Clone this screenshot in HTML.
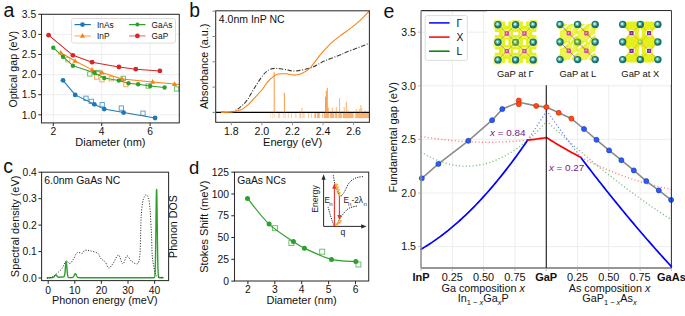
<!DOCTYPE html>
<html><head><meta charset="utf-8"><style>
html,body{margin:0;padding:0;background:#fff;width:685px;height:316px;overflow:hidden}
svg{display:block}
</style></head><body>
<svg width="685" height="316" viewBox="0 0 685 316" style="font-family:'Liberation Sans', sans-serif">
<rect width="685" height="316" fill="#fff"/>
<text x="3.50" y="17.30" font-size="19.5" text-anchor="start" fill="#111" font-weight="normal" >a</text>
<text x="189.20" y="16.60" font-size="19.3" text-anchor="start" fill="#111" font-weight="normal" >b</text>
<text x="3.30" y="173.40" font-size="19.5" text-anchor="start" fill="#111" font-weight="normal" >c</text>
<text x="189.00" y="173.70" font-size="18.5" text-anchor="start" fill="#111" font-weight="normal" >d</text>
<text x="383.50" y="18.00" font-size="19.5" text-anchor="start" fill="#111" font-weight="normal" >e</text>
<line x1="53.30" y1="14.30" x2="53.30" y2="122.90" stroke="#ebebeb" stroke-width="0.9" />
<line x1="101.70" y1="14.30" x2="101.70" y2="122.90" stroke="#ebebeb" stroke-width="0.9" />
<line x1="150.10" y1="14.30" x2="150.10" y2="122.90" stroke="#ebebeb" stroke-width="0.9" />
<line x1="41.50" y1="114.80" x2="179.30" y2="114.80" stroke="#ebebeb" stroke-width="0.9" />
<line x1="41.50" y1="94.70" x2="179.30" y2="94.70" stroke="#ebebeb" stroke-width="0.9" />
<line x1="41.50" y1="74.60" x2="179.30" y2="74.60" stroke="#ebebeb" stroke-width="0.9" />
<line x1="41.50" y1="54.50" x2="179.30" y2="54.50" stroke="#ebebeb" stroke-width="0.9" />
<line x1="41.50" y1="34.40" x2="179.30" y2="34.40" stroke="#ebebeb" stroke-width="0.9" />
<line x1="41.50" y1="14.30" x2="179.30" y2="14.30" stroke="#ebebeb" stroke-width="0.9" />
<rect x="71.6" y="18.5" width="103.9" height="24.6" rx="2" fill="#fff" fill-opacity="0.92" stroke="#d9d9d9" stroke-width="0.9"/>
<polyline points="63.00,80.30 75.20,94.90 94.30,104.30 104.20,109.10 123.60,112.60 155.10,118.00" fill="none" stroke="#1f77b4" stroke-width="1.05" stroke-linejoin="round" stroke-linecap="round" />
<polyline points="60.80,52.70 75.10,61.00 92.10,69.90 101.90,72.60 122.10,79.00 152.70,81.90 174.50,84.10 179.30,84.60" fill="none" stroke="#ff7f0e" stroke-width="1.05" stroke-linejoin="round" stroke-linecap="round" />
<polyline points="53.30,47.70 63.00,56.80 72.90,65.70 94.40,72.80 104.20,78.00 118.80,80.60 128.50,83.20 138.10,84.20 150.20,86.00 164.60,87.50" fill="none" stroke="#2ca02c" stroke-width="1.05" stroke-linejoin="round" stroke-linecap="round" />
<polyline points="48.60,35.20 72.90,55.30 92.10,62.20 118.90,67.00 135.80,69.20 159.90,70.90" fill="none" stroke="#d62728" stroke-width="1.05" stroke-linejoin="round" stroke-linecap="round" />
<rect x="83.85" y="96.15" width="4.3" height="4.3" fill="none" stroke="#1f77b4" stroke-width="0.9" stroke-opacity="0.75"/>
<rect x="89.15" y="99.25" width="4.3" height="4.3" fill="none" stroke="#1f77b4" stroke-width="0.9" stroke-opacity="0.75"/>
<rect x="100.05" y="102.55" width="4.3" height="4.3" fill="none" stroke="#1f77b4" stroke-width="0.9" stroke-opacity="0.75"/>
<rect x="119.25" y="105.95" width="4.3" height="4.3" fill="none" stroke="#1f77b4" stroke-width="0.9" stroke-opacity="0.75"/>
<rect x="140.85" y="111.05" width="4.3" height="4.3" fill="none" stroke="#1f77b4" stroke-width="0.9" stroke-opacity="0.75"/>
<rect x="65.55" y="57.55" width="4.3" height="4.3" fill="none" stroke="#ff7f0e" stroke-width="0.9" stroke-opacity="0.75"/>
<rect x="94.45" y="74.95" width="4.3" height="4.3" fill="none" stroke="#ff7f0e" stroke-width="0.9" stroke-opacity="0.75"/>
<rect x="99.85" y="77.55" width="4.3" height="4.3" fill="none" stroke="#ff7f0e" stroke-width="0.9" stroke-opacity="0.75"/>
<rect x="109.15" y="76.65" width="4.3" height="4.3" fill="none" stroke="#ff7f0e" stroke-width="0.9" stroke-opacity="0.75"/>
<rect x="123.75" y="82.45" width="4.3" height="4.3" fill="none" stroke="#ff7f0e" stroke-width="0.9" stroke-opacity="0.75"/>
<rect x="87.65" y="71.85" width="4.3" height="4.3" fill="none" stroke="#2ca02c" stroke-width="0.9" stroke-opacity="0.75"/>
<rect x="95.85" y="70.35" width="4.3" height="4.3" fill="none" stroke="#2ca02c" stroke-width="0.9" stroke-opacity="0.75"/>
<rect x="121.05" y="76.25" width="4.3" height="4.3" fill="none" stroke="#2ca02c" stroke-width="0.9" stroke-opacity="0.75"/>
<rect x="146.05" y="83.85" width="4.3" height="4.3" fill="none" stroke="#2ca02c" stroke-width="0.9" stroke-opacity="0.75"/>
<rect x="174.35" y="86.85" width="4.3" height="4.3" fill="none" stroke="#2ca02c" stroke-width="0.9" stroke-opacity="0.75"/>
<circle cx="63.00" cy="80.30" r="2.4" fill="#1f77b4" stroke="none" stroke-width="0" />
<circle cx="75.20" cy="94.90" r="2.4" fill="#1f77b4" stroke="none" stroke-width="0" />
<circle cx="94.30" cy="104.30" r="2.4" fill="#1f77b4" stroke="none" stroke-width="0" />
<circle cx="104.20" cy="109.10" r="2.4" fill="#1f77b4" stroke="none" stroke-width="0" />
<circle cx="123.60" cy="112.60" r="2.4" fill="#1f77b4" stroke="none" stroke-width="0" />
<circle cx="155.10" cy="118.00" r="2.4" fill="#1f77b4" stroke="none" stroke-width="0" />
<polygon points="60.80,49.89 58.20,54.57 63.40,54.57" fill="#ff7f0e"/>
<polygon points="75.10,58.19 72.50,62.87 77.70,62.87" fill="#ff7f0e"/>
<polygon points="92.10,67.09 89.50,71.77 94.70,71.77" fill="#ff7f0e"/>
<polygon points="101.90,69.79 99.30,74.47 104.50,74.47" fill="#ff7f0e"/>
<polygon points="122.10,76.19 119.50,80.87 124.70,80.87" fill="#ff7f0e"/>
<polygon points="152.70,79.09 150.10,83.77 155.30,83.77" fill="#ff7f0e"/>
<polygon points="174.50,81.29 171.90,85.97 177.10,85.97" fill="#ff7f0e"/>
<circle cx="53.30" cy="47.70" r="2.2" fill="#2ca02c" stroke="none" stroke-width="0" />
<circle cx="63.00" cy="56.80" r="2.2" fill="#2ca02c" stroke="none" stroke-width="0" />
<circle cx="72.90" cy="65.70" r="2.2" fill="#2ca02c" stroke="none" stroke-width="0" />
<circle cx="94.40" cy="72.80" r="2.2" fill="#2ca02c" stroke="none" stroke-width="0" />
<circle cx="104.20" cy="78.00" r="2.2" fill="#2ca02c" stroke="none" stroke-width="0" />
<circle cx="118.80" cy="80.60" r="2.2" fill="#2ca02c" stroke="none" stroke-width="0" />
<circle cx="128.50" cy="83.20" r="2.2" fill="#2ca02c" stroke="none" stroke-width="0" />
<circle cx="138.10" cy="84.20" r="2.2" fill="#2ca02c" stroke="none" stroke-width="0" />
<circle cx="150.20" cy="86.00" r="2.2" fill="#2ca02c" stroke="none" stroke-width="0" />
<circle cx="164.60" cy="87.50" r="2.2" fill="#2ca02c" stroke="none" stroke-width="0" />
<circle cx="48.60" cy="35.20" r="2.4" fill="#d62728" stroke="none" stroke-width="0" />
<circle cx="72.90" cy="55.30" r="2.4" fill="#d62728" stroke="none" stroke-width="0" />
<circle cx="92.10" cy="62.20" r="2.4" fill="#d62728" stroke="none" stroke-width="0" />
<circle cx="118.90" cy="67.00" r="2.4" fill="#d62728" stroke="none" stroke-width="0" />
<circle cx="135.80" cy="69.20" r="2.4" fill="#d62728" stroke="none" stroke-width="0" />
<circle cx="159.90" cy="70.90" r="2.4" fill="#d62728" stroke="none" stroke-width="0" />
<line x1="74.50" y1="24.60" x2="90.90" y2="24.60" stroke="#1f77b4" stroke-width="1.2" />
<circle cx="82.50" cy="24.60" r="2.4" fill="#1f77b4" stroke="none" stroke-width="0" />
<line x1="74.50" y1="35.90" x2="90.90" y2="35.90" stroke="#ff7f0e" stroke-width="1.2" stroke-opacity="0.6"/>
<polygon points="82.50,33.09 79.90,37.77 85.10,37.77" fill="#ff7f0e"/>
<line x1="129.10" y1="24.60" x2="145.50" y2="24.60" stroke="#2ca02c" stroke-width="1.2" />
<circle cx="137.40" cy="24.60" r="2.0" fill="#2ca02c" stroke="none" stroke-width="0" />
<line x1="129.10" y1="35.90" x2="145.50" y2="35.90" stroke="#d62728" stroke-width="1.2" stroke-opacity="0.6"/>
<circle cx="137.40" cy="35.90" r="2.4" fill="#d62728" stroke="none" stroke-width="0" />
<text x="97.00" y="27.70" font-size="8.3" text-anchor="start" fill="#111" font-weight="normal" >InAs</text>
<text x="97.00" y="39.00" font-size="8.3" text-anchor="start" fill="#111" font-weight="normal" >InP</text>
<text x="151.60" y="27.70" font-size="8.3" text-anchor="start" fill="#111" font-weight="normal" >GaAs</text>
<text x="151.60" y="39.00" font-size="8.3" text-anchor="start" fill="#111" font-weight="normal" >GaP</text>
<rect x="41.5" y="14.3" width="137.8" height="108.60000000000001" fill="none" stroke="#2e2e2e" stroke-width="1.05"/>
<line x1="53.30" y1="122.90" x2="53.30" y2="126.10" stroke="#2e2e2e" stroke-width="1.05" />
<text x="53.30" y="135.00" font-size="10.3" text-anchor="middle" fill="#111" font-weight="normal" >2</text>
<line x1="101.70" y1="122.90" x2="101.70" y2="126.10" stroke="#2e2e2e" stroke-width="1.05" />
<text x="101.70" y="135.00" font-size="10.3" text-anchor="middle" fill="#111" font-weight="normal" >4</text>
<line x1="150.10" y1="122.90" x2="150.10" y2="126.10" stroke="#2e2e2e" stroke-width="1.05" />
<text x="150.10" y="135.00" font-size="10.3" text-anchor="middle" fill="#111" font-weight="normal" >6</text>
<line x1="38.30" y1="114.80" x2="41.50" y2="114.80" stroke="#2e2e2e" stroke-width="1.05" />
<text x="36.20" y="118.50" font-size="10.3" text-anchor="end" fill="#111" font-weight="normal" >1.0</text>
<line x1="38.30" y1="94.70" x2="41.50" y2="94.70" stroke="#2e2e2e" stroke-width="1.05" />
<text x="36.20" y="98.40" font-size="10.3" text-anchor="end" fill="#111" font-weight="normal" >1.5</text>
<line x1="38.30" y1="74.60" x2="41.50" y2="74.60" stroke="#2e2e2e" stroke-width="1.05" />
<text x="36.20" y="78.30" font-size="10.3" text-anchor="end" fill="#111" font-weight="normal" >2.0</text>
<line x1="38.30" y1="54.50" x2="41.50" y2="54.50" stroke="#2e2e2e" stroke-width="1.05" />
<text x="36.20" y="58.20" font-size="10.3" text-anchor="end" fill="#111" font-weight="normal" >2.5</text>
<line x1="38.30" y1="34.40" x2="41.50" y2="34.40" stroke="#2e2e2e" stroke-width="1.05" />
<text x="36.20" y="38.10" font-size="10.3" text-anchor="end" fill="#111" font-weight="normal" >3.0</text>
<line x1="38.30" y1="14.30" x2="41.50" y2="14.30" stroke="#2e2e2e" stroke-width="1.05" />
<text x="36.20" y="18.00" font-size="10.3" text-anchor="end" fill="#111" font-weight="normal" >3.5</text>
<text x="110.40" y="146.00" font-size="11" text-anchor="middle" fill="#111" font-weight="normal" >Diameter (nm)</text>
<text transform="translate(17.20,69.30) rotate(-90)" font-size="10.6" text-anchor="middle" fill="#111">Optical gap (eV)</text>
<line x1="270.60" y1="112.40" x2="270.60" y2="118.10" stroke="#ff7f0e" stroke-width="1.0" stroke-opacity="0.25"/>
<line x1="272.60" y1="112.40" x2="272.60" y2="118.10" stroke="#ff7f0e" stroke-width="1.0" stroke-opacity="0.25"/>
<line x1="274.20" y1="112.40" x2="274.20" y2="118.10" stroke="#ff7f0e" stroke-width="1.0" stroke-opacity="0.3"/>
<line x1="278.30" y1="112.40" x2="278.30" y2="118.10" stroke="#ff7f0e" stroke-width="1.0" stroke-opacity="0.4"/>
<line x1="279.60" y1="112.40" x2="279.60" y2="118.10" stroke="#ff7f0e" stroke-width="1.0" stroke-opacity="0.4"/>
<line x1="283.30" y1="112.40" x2="283.30" y2="118.10" stroke="#ff7f0e" stroke-width="1.0" stroke-opacity="0.25"/>
<line x1="284.60" y1="112.40" x2="284.60" y2="118.10" stroke="#ff7f0e" stroke-width="1.0" stroke-opacity="0.25"/>
<line x1="285.60" y1="112.40" x2="285.60" y2="118.10" stroke="#ff7f0e" stroke-width="1.0" stroke-opacity="0.2"/>
<line x1="288.30" y1="112.40" x2="288.30" y2="118.10" stroke="#ff7f0e" stroke-width="1.0" stroke-opacity="0.4"/>
<line x1="291.50" y1="112.40" x2="291.50" y2="118.10" stroke="#ff7f0e" stroke-width="1.0" stroke-opacity="0.35"/>
<line x1="295.90" y1="112.40" x2="295.90" y2="118.10" stroke="#ff7f0e" stroke-width="1.0" stroke-opacity="0.45"/>
<line x1="299.90" y1="112.40" x2="299.90" y2="118.10" stroke="#ff7f0e" stroke-width="1.0" stroke-opacity="0.5"/>
<line x1="300.90" y1="112.40" x2="300.90" y2="118.10" stroke="#ff7f0e" stroke-width="1.0" stroke-opacity="0.45"/>
<line x1="302.50" y1="112.40" x2="302.50" y2="118.10" stroke="#ff7f0e" stroke-width="1.0" stroke-opacity="0.25"/>
<line x1="303.50" y1="112.40" x2="303.50" y2="118.10" stroke="#ff7f0e" stroke-width="1.0" stroke-opacity="0.25"/>
<line x1="304.40" y1="112.40" x2="304.40" y2="118.10" stroke="#ff7f0e" stroke-width="1.0" stroke-opacity="0.25"/>
<line x1="308.40" y1="112.40" x2="308.40" y2="118.10" stroke="#ff7f0e" stroke-width="1.0" stroke-opacity="0.5"/>
<line x1="311.60" y1="112.40" x2="311.60" y2="118.10" stroke="#ff7f0e" stroke-width="1.0" stroke-opacity="0.45"/>
<line x1="314.80" y1="112.40" x2="314.80" y2="118.10" stroke="#ff7f0e" stroke-width="1.0" stroke-opacity="0.55"/>
<rect x="315" y="112.4" width="1.20" height="5.7" fill="#ff7f0e" fill-opacity="0.6"/>
<rect x="317" y="112.4" width="2.80" height="5.7" fill="#ff7f0e" fill-opacity="0.6"/>
<rect x="322.2" y="112.4" width="0.80" height="5.7" fill="#ff7f0e" fill-opacity="0.6"/>
<rect x="323.8" y="112.4" width="5.20" height="5.7" fill="#ff7f0e" fill-opacity="0.6"/>
<rect x="329.9" y="112.4" width="4.40" height="5.7" fill="#ff7f0e" fill-opacity="0.6"/>
<rect x="335.1" y="112.4" width="2.40" height="5.7" fill="#ff7f0e" fill-opacity="0.6"/>
<rect x="338.3" y="112.4" width="3.60" height="5.7" fill="#ff7f0e" fill-opacity="0.6"/>
<rect x="342.7" y="112.4" width="10.90" height="5.7" fill="#ff7f0e" fill-opacity="0.6"/>
<rect x="355.2" y="112.4" width="14.20" height="5.7" fill="#ff7f0e" fill-opacity="0.6"/>
<line x1="215.70" y1="112.40" x2="369.40" y2="112.40" stroke="#000" stroke-width="1.2" />
<line x1="274.20" y1="112.40" x2="274.20" y2="71.90" stroke="#ff7f0e" stroke-width="1.0" stroke-opacity="0.8"/>
<line x1="284.40" y1="112.40" x2="284.40" y2="92.80" stroke="#ff7f0e" stroke-width="1.0" stroke-opacity="0.8"/>
<line x1="299.50" y1="112.40" x2="299.50" y2="111.00" stroke="#ff7f0e" stroke-width="1.0" stroke-opacity="0.5599999999999999"/>
<line x1="301.90" y1="112.40" x2="301.90" y2="108.00" stroke="#ff7f0e" stroke-width="1.0" stroke-opacity="0.5599999999999999"/>
<line x1="325.60" y1="112.40" x2="325.60" y2="96.80" stroke="#ff7f0e" stroke-width="1.0" stroke-opacity="0.8"/>
<line x1="326.30" y1="112.40" x2="326.30" y2="90.70" stroke="#ff7f0e" stroke-width="1.0" stroke-opacity="0.8"/>
<line x1="327.30" y1="112.40" x2="327.30" y2="87.80" stroke="#ff7f0e" stroke-width="1.0" stroke-opacity="0.8"/>
<line x1="328.30" y1="112.40" x2="328.30" y2="107.80" stroke="#ff7f0e" stroke-width="1.0" stroke-opacity="0.6400000000000001"/>
<line x1="332.30" y1="112.40" x2="332.30" y2="107.80" stroke="#ff7f0e" stroke-width="1.0" stroke-opacity="0.5599999999999999"/>
<line x1="336.30" y1="112.40" x2="336.30" y2="106.80" stroke="#ff7f0e" stroke-width="1.0" stroke-opacity="0.5599999999999999"/>
<line x1="339.60" y1="112.40" x2="339.60" y2="98.20" stroke="#ff7f0e" stroke-width="1.0" stroke-opacity="0.6400000000000001"/>
<line x1="344.20" y1="112.40" x2="344.20" y2="107.00" stroke="#ff7f0e" stroke-width="1.0" stroke-opacity="0.5599999999999999"/>
<line x1="346.30" y1="112.40" x2="346.30" y2="101.80" stroke="#ff7f0e" stroke-width="1.0" stroke-opacity="0.6400000000000001"/>
<line x1="348.00" y1="112.40" x2="348.00" y2="110.00" stroke="#ff7f0e" stroke-width="1.0" stroke-opacity="0.48"/>
<line x1="356.40" y1="112.40" x2="356.40" y2="109.00" stroke="#ff7f0e" stroke-width="1.0" stroke-opacity="0.48"/>
<line x1="359.60" y1="112.40" x2="359.60" y2="109.00" stroke="#ff7f0e" stroke-width="1.0" stroke-opacity="0.48"/>
<line x1="360.80" y1="112.40" x2="360.80" y2="105.00" stroke="#ff7f0e" stroke-width="1.0" stroke-opacity="0.5599999999999999"/>
<line x1="361.80" y1="112.40" x2="361.80" y2="108.00" stroke="#ff7f0e" stroke-width="1.0" stroke-opacity="0.48"/>
<line x1="365.20" y1="112.40" x2="365.20" y2="110.00" stroke="#ff7f0e" stroke-width="1.0" stroke-opacity="0.48"/>
<path d="M221.00,112.40 C222.77,112.33 228.53,112.75 231.60,112.00 C234.67,111.25 236.82,109.87 239.40,107.90 C241.98,105.93 244.67,103.40 247.10,100.20 C249.53,97.00 251.35,92.87 254.00,88.70 C256.65,84.53 260.40,78.40 263.00,75.20 C265.60,72.00 267.38,70.63 269.60,69.50 C271.82,68.37 273.73,68.40 276.30,68.40 C278.87,68.40 281.80,69.07 285.00,69.50 C288.20,69.93 291.17,71.30 295.50,71.00 C299.83,70.70 306.20,69.35 311.00,67.70 C315.80,66.05 319.47,63.22 324.30,61.10 C329.13,58.98 336.30,56.50 340.00,55.00 C343.70,53.50 341.60,54.05 346.50,52.10 C351.40,50.15 365.58,44.77 369.40,43.30" fill="none" stroke="#3a3a3a" stroke-width="1.1" stroke-dasharray="4.5,1.6,1.0,1.6"/>
<path d="M221.00,112.40 C222.77,112.33 228.35,112.38 231.60,112.00 C234.85,111.62 237.73,111.33 240.50,110.10 C243.27,108.87 245.62,106.90 248.20,104.60 C250.78,102.30 253.60,98.90 256.00,96.30 C258.40,93.70 260.65,91.42 262.60,89.00 C264.55,86.58 265.82,83.95 267.70,81.80 C269.58,79.65 272.15,77.40 273.90,76.10 C275.65,74.80 276.18,74.38 278.20,74.00 C280.22,73.62 283.12,73.62 286.00,73.80 C288.88,73.98 292.62,75.28 295.50,75.10 C298.38,74.92 300.80,73.95 303.30,72.70 C305.80,71.45 307.75,70.50 310.50,67.60 C313.25,64.70 316.62,59.13 319.80,55.30 C322.98,51.47 326.33,47.75 329.60,44.60 C332.87,41.45 336.13,38.93 339.40,36.40 C342.67,33.87 345.93,31.90 349.20,29.40 C352.47,26.90 355.63,24.50 359.00,21.40 C362.37,18.30 367.67,12.57 369.40,10.80" fill="none" stroke="#ff7f0e" stroke-width="1.05" />
<rect x="215.7" y="10.8" width="153.7" height="111.5" fill="none" stroke="#2e2e2e" stroke-width="1.05"/>
<line x1="231.30" y1="122.30" x2="231.30" y2="125.30" stroke="#888" stroke-width="0.9" />
<text x="231.30" y="135.00" font-size="10.6" text-anchor="middle" fill="#111" font-weight="normal" >1.8</text>
<line x1="261.88" y1="122.30" x2="261.88" y2="125.30" stroke="#888" stroke-width="0.9" />
<text x="261.88" y="135.00" font-size="10.6" text-anchor="middle" fill="#111" font-weight="normal" >2.0</text>
<line x1="292.46" y1="122.30" x2="292.46" y2="125.30" stroke="#888" stroke-width="0.9" />
<text x="292.46" y="135.00" font-size="10.6" text-anchor="middle" fill="#111" font-weight="normal" >2.2</text>
<line x1="323.04" y1="122.30" x2="323.04" y2="125.30" stroke="#888" stroke-width="0.9" />
<text x="323.04" y="135.00" font-size="10.6" text-anchor="middle" fill="#111" font-weight="normal" >2.4</text>
<line x1="353.62" y1="122.30" x2="353.62" y2="125.30" stroke="#888" stroke-width="0.9" />
<text x="353.62" y="135.00" font-size="10.6" text-anchor="middle" fill="#111" font-weight="normal" >2.6</text>
<line x1="212.50" y1="112.40" x2="215.70" y2="112.40" stroke="#777" stroke-width="0.9" />
<line x1="212.50" y1="87.10" x2="215.70" y2="87.10" stroke="#777" stroke-width="0.9" />
<line x1="212.50" y1="61.80" x2="215.70" y2="61.80" stroke="#777" stroke-width="0.9" />
<line x1="212.50" y1="36.50" x2="215.70" y2="36.50" stroke="#777" stroke-width="0.9" />
<line x1="212.50" y1="11.20" x2="215.70" y2="11.20" stroke="#777" stroke-width="0.9" />
<text x="292.60" y="146.00" font-size="11.1" text-anchor="middle" fill="#111" font-weight="normal" >Energy (eV)</text>
<text transform="translate(207.60,66.40) rotate(-90)" font-size="10.75" text-anchor="middle" fill="#111">Absorbance (a.u.)</text>
<text x="218.80" y="22.70" font-size="10.5" text-anchor="start" fill="#111" font-weight="normal" >4.0nm InP NC</text>
<polyline points="47.14,277.68 47.27,277.68 47.40,277.68 47.54,277.68 47.67,277.68 47.80,277.68 47.93,277.68 48.07,277.68 48.20,277.68 48.33,277.68 48.47,277.68 48.60,277.68 48.73,277.68 48.87,277.68 49.00,277.68 49.13,277.68 49.26,277.68 49.40,277.68 49.53,277.68 49.66,277.68 49.80,277.68 49.93,277.68 50.06,277.68 50.20,277.68 50.33,277.68 50.46,277.68 50.59,277.68 50.73,277.68 50.86,277.68 50.99,277.68 51.13,277.68 51.26,277.68 51.39,277.68 51.53,277.68 51.66,277.68 51.79,277.67 51.92,277.67 52.06,277.66 52.19,277.65 52.32,277.64 52.46,277.63 52.59,277.61 52.72,277.58 52.86,277.55 52.99,277.51 53.12,277.46 53.25,277.40 53.39,277.32 53.52,277.24 53.65,277.14 53.79,277.02 53.92,276.89 54.05,276.75 54.19,276.59 54.32,276.43 54.45,276.26 54.58,276.08 54.72,275.90 54.85,275.73 54.98,275.56 55.12,275.41 55.25,275.28 55.38,275.18 55.52,275.10 55.65,275.05 55.78,275.03 55.91,275.04 56.05,275.09 56.18,275.16 56.31,275.26 56.45,275.39 56.58,275.53 56.71,275.69 56.84,275.85 56.98,276.02 57.11,276.19 57.24,276.35 57.38,276.50 57.51,276.65 57.64,276.77 57.78,276.89 57.91,276.98 58.04,277.06 58.17,277.13 58.31,277.18 58.44,277.22 58.57,277.24 58.71,277.26 58.84,277.27 58.97,277.27 59.11,277.26 59.24,277.25 59.37,277.24 59.50,277.23 59.64,277.21 59.77,277.19 59.90,277.18 60.04,277.16 60.17,277.15 60.30,277.13 60.44,277.12 60.57,277.11 60.70,277.09 60.83,277.08 60.97,277.07 61.10,277.07 61.23,277.06 61.37,277.05 61.50,277.04 61.63,277.03 61.77,277.02 61.90,277.01 62.03,277.00 62.16,276.99 62.30,276.98 62.43,276.97 62.56,276.95 62.70,276.94 62.83,276.93 62.96,276.92 63.10,276.91 63.23,276.89 63.36,276.88 63.49,276.86 63.63,276.83 63.76,276.78 63.89,276.72 64.03,276.61 64.16,276.45 64.29,276.20 64.43,275.85 64.56,275.35 64.69,274.68 64.82,273.81 64.96,272.72 65.09,271.43 65.22,269.96 65.36,268.36 65.49,266.73 65.62,265.17 65.76,263.79 65.89,262.72 66.02,262.04 66.15,261.83 66.29,262.10 66.42,262.84 66.55,263.97 66.69,265.40 66.82,267.02 66.95,268.71 67.09,270.35 67.22,271.87 67.35,273.21 67.48,274.33 67.62,275.24 67.75,275.95 67.88,276.47 68.02,276.86 68.15,277.12 68.28,277.30 68.42,277.42 68.55,277.50 68.68,277.55 68.81,277.58 68.95,277.61 69.08,277.62 69.21,277.63 69.35,277.64 69.48,277.65 69.61,277.65 69.75,277.66 69.88,277.66 70.01,277.66 70.14,277.67 70.28,277.67 70.41,277.67 70.54,277.67 70.68,277.67 70.81,277.68 70.94,277.68 71.08,277.68 71.21,277.67 71.34,277.67 71.47,277.67 71.61,277.67 71.74,277.66 71.87,277.65 72.01,277.63 72.14,277.61 72.27,277.59 72.41,277.55 72.54,277.51 72.67,277.45 72.80,277.38 72.94,277.28 73.07,277.17 73.20,277.04 73.34,276.88 73.47,276.69 73.60,276.48 73.74,276.25 73.87,276.00 74.00,275.73 74.14,275.45 74.27,275.16 74.40,274.88 74.53,274.61 74.67,274.36 74.80,274.14 74.93,273.96 75.07,273.83 75.20,273.74 75.33,273.72 75.47,273.74 75.60,273.83 75.73,273.96 75.86,274.14 76.00,274.36 76.13,274.61 76.26,274.88 76.40,275.16 76.53,275.45 76.66,275.73 76.80,276.00 76.93,276.25 77.06,276.48 77.19,276.69 77.33,276.88 77.46,277.04 77.59,277.17 77.73,277.28 77.86,277.38 77.99,277.45 78.13,277.51 78.26,277.55 78.39,277.59 78.52,277.62 78.66,277.64 78.79,277.65 78.92,277.66 79.06,277.67 79.19,277.67 79.32,277.68 79.46,277.68 79.59,277.68 79.72,277.68 79.85,277.68 79.99,277.68 80.12,277.68 80.25,277.68 80.39,277.68 80.52,277.68 80.65,277.68 80.79,277.68 80.92,277.68 81.05,277.68 81.18,277.68 81.32,277.68 81.45,277.68 81.58,277.68 81.72,277.68 81.85,277.68 81.98,277.68 82.12,277.68 82.25,277.68 82.38,277.68 82.51,277.68 82.65,277.68 82.78,277.68 82.91,277.68 83.05,277.68 83.18,277.68 83.31,277.68 83.45,277.68 83.58,277.68 83.71,277.68 83.84,277.68 83.98,277.68 84.11,277.68 84.24,277.68 84.38,277.68 84.51,277.68 84.64,277.68 84.78,277.68 84.91,277.68 85.04,277.68 85.17,277.68 85.31,277.68 85.44,277.68 85.57,277.68 85.71,277.68 85.84,277.68 85.97,277.68 86.11,277.68 86.24,277.68 86.37,277.68 86.50,277.68 86.64,277.68 86.77,277.68 86.90,277.68 87.04,277.68 87.17,277.68 87.30,277.68 87.44,277.68 87.57,277.68 87.70,277.68 87.83,277.68 87.97,277.68 88.10,277.68 88.23,277.68 88.37,277.68 88.50,277.68 88.63,277.68 88.77,277.68 88.90,277.68 89.03,277.68 89.16,277.68 89.30,277.68 89.43,277.68 89.56,277.68 89.70,277.68 89.83,277.68 89.96,277.68 90.10,277.68 90.23,277.68 90.36,277.68 90.49,277.68 90.63,277.68 90.76,277.68 90.89,277.68 91.03,277.68 91.16,277.68 91.29,277.68 91.43,277.68 91.56,277.68 91.69,277.68 91.82,277.68 91.96,277.68 92.09,277.68 92.22,277.68 92.36,277.68 92.49,277.68 92.62,277.68 92.76,277.68 92.89,277.68 93.02,277.68 93.15,277.68 93.29,277.68 93.42,277.68 93.55,277.68 93.69,277.68 93.82,277.68 93.95,277.68 94.09,277.68 94.22,277.68 94.35,277.68 94.48,277.68 94.62,277.68 94.75,277.68 94.88,277.68 95.02,277.68 95.15,277.68 95.28,277.68 95.42,277.68 95.55,277.68 95.68,277.68 95.81,277.68 95.95,277.68 96.08,277.68 96.21,277.68 96.35,277.68 96.48,277.68 96.61,277.68 96.75,277.68 96.88,277.68 97.01,277.68 97.14,277.68 97.28,277.68 97.41,277.68 97.54,277.68 97.68,277.68 97.81,277.68 97.94,277.68 98.08,277.68 98.21,277.68 98.34,277.68 98.47,277.68 98.61,277.68 98.74,277.68 98.87,277.68 99.01,277.68 99.14,277.68 99.27,277.68 99.41,277.68 99.54,277.68 99.67,277.68 99.80,277.68 99.94,277.68 100.07,277.68 100.20,277.68 100.34,277.68 100.47,277.68 100.60,277.68 100.74,277.68 100.87,277.68 101.00,277.68 101.13,277.68 101.27,277.68 101.40,277.68 101.53,277.68 101.67,277.68 101.80,277.68 101.93,277.68 102.07,277.68 102.20,277.68 102.33,277.68 102.46,277.68 102.60,277.68 102.73,277.68 102.86,277.68 103.00,277.68 103.13,277.68 103.26,277.68 103.40,277.68 103.53,277.68 103.66,277.68 103.79,277.68 103.93,277.68 104.06,277.68 104.19,277.68 104.33,277.68 104.46,277.68 104.59,277.68 104.73,277.68 104.86,277.68 104.99,277.68 105.12,277.68 105.26,277.68 105.39,277.68 105.52,277.68 105.66,277.68 105.79,277.68 105.92,277.68 106.06,277.68 106.19,277.68 106.32,277.68 106.45,277.68 106.59,277.68 106.72,277.68 106.85,277.68 106.99,277.68 107.12,277.68 107.25,277.68 107.39,277.68 107.52,277.68 107.65,277.68 107.78,277.68 107.92,277.68 108.05,277.68 108.18,277.68 108.32,277.68 108.45,277.68 108.58,277.68 108.72,277.68 108.85,277.68 108.98,277.68 109.11,277.68 109.25,277.68 109.38,277.68 109.51,277.68 109.65,277.68 109.78,277.68 109.91,277.68 110.05,277.68 110.18,277.68 110.31,277.68 110.44,277.68 110.58,277.68 110.71,277.68 110.84,277.68 110.98,277.68 111.11,277.68 111.24,277.68 111.38,277.68 111.51,277.68 111.64,277.68 111.77,277.68 111.91,277.68 112.04,277.68 112.17,277.68 112.31,277.68 112.44,277.68 112.57,277.68 112.71,277.68 112.84,277.68 112.97,277.68 113.10,277.68 113.24,277.68 113.37,277.68 113.50,277.68 113.64,277.68 113.77,277.68 113.90,277.68 114.04,277.68 114.17,277.68 114.30,277.68 114.43,277.68 114.57,277.68 114.70,277.68 114.83,277.68 114.97,277.68 115.10,277.68 115.23,277.68 115.37,277.68 115.50,277.68 115.63,277.68 115.76,277.68 115.90,277.68 116.03,277.68 116.16,277.68 116.30,277.68 116.43,277.68 116.56,277.68 116.70,277.68 116.83,277.68 116.96,277.68 117.09,277.68 117.23,277.68 117.36,277.68 117.49,277.68 117.63,277.68 117.76,277.68 117.89,277.68 118.03,277.68 118.16,277.68 118.29,277.68 118.42,277.68 118.56,277.68 118.69,277.68 118.82,277.68 118.96,277.68 119.09,277.68 119.22,277.68 119.36,277.68 119.49,277.68 119.62,277.68 119.75,277.68 119.89,277.68 120.02,277.68 120.15,277.68 120.29,277.68 120.42,277.68 120.55,277.68 120.69,277.68 120.82,277.68 120.95,277.68 121.08,277.68 121.22,277.68 121.35,277.68 121.48,277.68 121.62,277.68 121.75,277.68 121.88,277.68 122.02,277.68 122.15,277.68 122.28,277.68 122.41,277.68 122.55,277.68 122.68,277.68 122.81,277.68 122.95,277.68 123.08,277.68 123.21,277.68 123.35,277.68 123.48,277.68 123.61,277.68 123.74,277.68 123.88,277.68 124.01,277.68 124.14,277.68 124.28,277.68 124.41,277.68 124.54,277.68 124.68,277.68 124.81,277.68 124.94,277.68 125.07,277.68 125.21,277.68 125.34,277.68 125.47,277.68 125.61,277.68 125.74,277.68 125.87,277.68 126.01,277.68 126.14,277.68 126.27,277.68 126.40,277.68 126.54,277.68 126.67,277.68 126.80,277.68 126.94,277.68 127.07,277.68 127.20,277.68 127.34,277.68 127.47,277.68 127.60,277.68 127.73,277.68 127.87,277.68 128.00,277.68 128.13,277.68 128.27,277.68 128.40,277.68 128.53,277.68 128.67,277.68 128.80,277.68 128.93,277.68 129.06,277.68 129.20,277.68 129.33,277.68 129.46,277.68 129.60,277.68 129.73,277.68 129.86,277.68 130.00,277.68 130.13,277.68 130.26,277.68 130.39,277.68 130.53,277.68 130.66,277.68 130.79,277.68 130.93,277.68 131.06,277.68 131.19,277.68 131.33,277.68 131.46,277.68 131.59,277.68 131.72,277.68 131.86,277.68 131.99,277.68 132.12,277.68 132.26,277.68 132.39,277.68 132.52,277.68 132.66,277.68 132.79,277.68 132.92,277.68 133.05,277.68 133.19,277.68 133.32,277.68 133.45,277.68 133.59,277.68 133.72,277.68 133.85,277.68 133.99,277.68 134.12,277.68 134.25,277.68 134.38,277.68 134.52,277.68 134.65,277.68 134.78,277.68 134.92,277.68 135.05,277.68 135.18,277.68 135.32,277.68 135.45,277.68 135.58,277.68 135.71,277.68 135.85,277.68 135.98,277.68 136.11,277.68 136.25,277.68 136.38,277.68 136.51,277.68 136.65,277.68 136.78,277.68 136.91,277.68 137.04,277.68 137.18,277.68 137.31,277.68 137.44,277.68 137.58,277.68 137.71,277.68 137.84,277.68 137.98,277.68 138.11,277.68 138.24,277.68 138.37,277.68 138.51,277.68 138.64,277.68 138.77,277.68 138.91,277.68 139.04,277.68 139.17,277.68 139.31,277.68 139.44,277.68 139.57,277.68 139.70,277.68 139.84,277.68 139.97,277.68 140.10,277.68 140.24,277.68 140.37,277.68 140.50,277.68 140.64,277.68 140.77,277.68 140.90,277.68 141.03,277.68 141.17,277.68 141.30,277.68 141.43,277.68 141.57,277.68 141.70,277.68 141.83,277.68 141.97,277.68 142.10,277.68 142.23,277.68 142.36,277.68 142.50,277.68 142.63,277.68 142.76,277.68 142.90,277.68 143.03,277.68 143.16,277.68 143.30,277.68 143.43,277.68 143.56,277.68 143.69,277.68 143.83,277.68 143.96,277.68 144.09,277.68 144.23,277.68 144.36,277.68 144.49,277.68 144.63,277.68 144.76,277.68 144.89,277.68 145.02,277.68 145.16,277.68 145.29,277.68 145.42,277.68 145.56,277.68 145.69,277.68 145.82,277.68 145.96,277.68 146.09,277.68 146.22,277.68 146.35,277.68 146.49,277.68 146.62,277.68 146.75,277.68 146.89,277.68 147.02,277.68 147.15,277.68 147.29,277.68 147.42,277.68 147.55,277.68 147.68,277.68 147.82,277.68 147.95,277.68 148.08,277.68 148.22,277.68 148.35,277.68 148.48,277.68 148.62,277.68 148.75,277.68 148.88,277.68 149.01,277.68 149.15,277.68 149.28,277.68 149.41,277.68 149.55,277.68 149.68,277.68 149.81,277.68 149.94,277.68 150.08,277.68 150.21,277.68 150.34,277.68 150.48,277.68 150.61,277.68 150.74,277.68 150.88,277.68 151.01,277.68 151.14,277.68 151.27,277.68 151.41,277.68 151.54,277.68 151.67,277.68 151.81,277.68 151.94,277.68 152.07,277.68 152.21,277.68 152.34,277.68 152.47,277.68 152.60,277.68 152.74,277.68 152.87,277.68 153.00,277.68 153.14,277.68 153.27,277.68 153.40,277.68 153.54,277.68 153.67,277.68 153.80,277.68 153.93,277.67 154.07,277.65 154.20,277.60 154.33,277.52 154.47,277.34 154.60,277.01 154.73,276.43 154.87,275.43 155.00,273.80 155.13,271.29 155.26,267.60 155.40,262.45 155.53,255.65 155.66,247.18 155.80,237.24 155.93,226.33 156.06,215.26 156.20,205.01 156.33,196.68 156.46,191.24 156.59,189.34 156.73,191.24 156.86,196.68 156.99,205.01 157.13,215.26 157.26,226.33 157.39,237.24 157.53,247.18 157.66,255.65 157.79,262.45 157.92,267.60 158.06,271.29 158.19,273.80 158.32,275.43 158.46,276.43 158.59,277.01 158.72,277.34 158.86,277.52 158.99,277.60 159.12,277.65 159.25,277.67 159.39,277.68 159.52,277.68 159.65,277.68 159.79,277.68 159.92,277.68 160.05,277.68 160.19,277.68 160.32,277.68 160.45,277.68 160.58,277.68 160.72,277.68 160.85,277.68 160.98,277.68 161.12,277.68 161.25,277.68 161.38,277.68 161.52,277.68 161.65,277.68 161.78,277.68 161.91,277.68 162.05,277.68 162.18,277.68 162.31,277.68 162.45,277.68 162.58,277.68 162.71,277.68 162.85,277.68 162.98,277.68 163.11,277.68" fill="none" stroke="#2ca02c" stroke-width="1.4" stroke-linejoin="round" stroke-linecap="round" />
<path d="M47.10,278.30 C47.92,278.08 50.68,277.52 52.00,277.00 C53.32,276.48 54.00,275.95 55.00,275.20 C56.00,274.45 56.83,273.62 58.00,272.50 C59.17,271.38 60.67,270.42 62.00,268.50 C63.33,266.58 64.92,261.95 66.00,261.00 C67.08,260.05 67.75,262.43 68.50,262.80 C69.25,263.17 69.70,263.78 70.50,263.20 C71.30,262.62 72.18,261.05 73.30,259.30 C74.42,257.55 75.73,253.70 77.20,252.70 C78.67,251.70 80.82,253.70 82.10,253.30 C83.38,252.90 83.60,250.72 84.90,250.30 C86.20,249.88 87.77,250.30 89.90,250.80 C92.03,251.30 95.85,251.97 97.70,253.30 C99.55,254.63 99.72,257.33 101.00,258.80 C102.28,260.27 104.12,260.55 105.40,262.10 C106.68,263.65 107.40,267.92 108.70,268.10 C110.00,268.28 111.57,265.38 113.20,263.20 C114.83,261.02 116.90,254.87 118.50,255.00 C120.10,255.13 121.38,263.85 122.80,264.00 C124.22,264.15 125.57,256.38 127.00,255.90 C128.43,255.42 129.65,259.80 131.40,261.10 C133.15,262.40 136.08,264.72 137.50,263.70 C138.92,262.68 139.38,259.78 139.90,255.00 C140.42,250.22 140.40,241.17 140.60,235.00 C140.80,228.83 140.78,223.33 141.10,218.00 C141.42,212.67 141.93,206.58 142.50,203.00 C143.07,199.42 143.83,197.83 144.50,196.50 C145.17,195.17 145.83,194.75 146.50,195.00 C147.17,195.25 147.92,195.83 148.50,198.00 C149.08,200.17 149.65,204.67 150.00,208.00 C150.35,211.33 150.35,213.50 150.60,218.00 C150.85,222.50 151.23,228.83 151.50,235.00 C151.77,241.17 151.87,250.00 152.20,255.00 C152.53,260.00 152.95,261.83 153.50,265.00 C154.05,268.17 154.80,272.07 155.50,274.00 C156.20,275.93 156.50,276.02 157.70,276.60 C158.90,277.18 161.87,277.35 162.70,277.50" fill="none" stroke="#333" stroke-width="1.0" stroke-dasharray="1.1,1.5"/>
<rect x="41.6" y="172.2" width="127.0" height="108.40000000000003" fill="none" stroke="#2e2e2e" stroke-width="1.05"/>
<line x1="48.20" y1="280.60" x2="48.20" y2="283.80" stroke="#2e2e2e" stroke-width="1.05" />
<text x="48.20" y="293.50" font-size="10.3" text-anchor="middle" fill="#111" font-weight="normal" >0</text>
<line x1="74.80" y1="280.60" x2="74.80" y2="283.80" stroke="#2e2e2e" stroke-width="1.05" />
<text x="74.80" y="293.50" font-size="10.3" text-anchor="middle" fill="#111" font-weight="normal" >10</text>
<line x1="101.40" y1="280.60" x2="101.40" y2="283.80" stroke="#2e2e2e" stroke-width="1.05" />
<text x="101.40" y="293.50" font-size="10.3" text-anchor="middle" fill="#111" font-weight="normal" >20</text>
<line x1="128.00" y1="280.60" x2="128.00" y2="283.80" stroke="#2e2e2e" stroke-width="1.05" />
<text x="128.00" y="293.50" font-size="10.3" text-anchor="middle" fill="#111" font-weight="normal" >30</text>
<line x1="154.60" y1="280.60" x2="154.60" y2="283.80" stroke="#2e2e2e" stroke-width="1.05" />
<text x="154.60" y="293.50" font-size="10.3" text-anchor="middle" fill="#111" font-weight="normal" >40</text>
<line x1="38.40" y1="278.00" x2="41.60" y2="278.00" stroke="#2e2e2e" stroke-width="1.05" />
<text x="36.80" y="281.70" font-size="10.3" text-anchor="end" fill="#111" font-weight="normal" >0.0</text>
<line x1="38.40" y1="251.55" x2="41.60" y2="251.55" stroke="#2e2e2e" stroke-width="1.05" />
<text x="36.80" y="255.25" font-size="10.3" text-anchor="end" fill="#111" font-weight="normal" >0.1</text>
<line x1="38.40" y1="225.10" x2="41.60" y2="225.10" stroke="#2e2e2e" stroke-width="1.05" />
<text x="36.80" y="228.80" font-size="10.3" text-anchor="end" fill="#111" font-weight="normal" >0.2</text>
<line x1="38.40" y1="198.65" x2="41.60" y2="198.65" stroke="#2e2e2e" stroke-width="1.05" />
<text x="36.80" y="202.35" font-size="10.3" text-anchor="end" fill="#111" font-weight="normal" >0.3</text>
<line x1="38.40" y1="172.20" x2="41.60" y2="172.20" stroke="#2e2e2e" stroke-width="1.05" />
<text x="36.80" y="175.90" font-size="10.3" text-anchor="end" fill="#111" font-weight="normal" >0.4</text>
<text x="104.80" y="303.70" font-size="10.8" text-anchor="middle" fill="#111" font-weight="normal" >Phonon energy (meV)</text>
<text transform="translate(18.90,226.40) rotate(-90)" font-size="10.95" text-anchor="middle" fill="#111">Spectral density (eV)</text>
<text transform="translate(177.00,226.60) rotate(-90)" font-size="10.65" text-anchor="middle" fill="#111">Phonon DOS</text>
<text x="44.30" y="183.80" font-size="10.45" text-anchor="start" fill="#111" font-weight="normal" >6.0nm GaAs NC</text>
<path d="M247.50,198.40 C251.10,202.68 261.45,216.90 269.10,224.10 C276.75,231.30 287.52,237.58 293.40,241.60 C299.28,245.62 298.05,245.23 304.40,248.20 C310.75,251.17 322.93,257.18 331.50,259.40 C340.07,261.62 351.75,261.15 355.80,261.50" fill="none" stroke="#2ca02c" stroke-width="1.2" />
<rect x="272.40" y="225.70" width="5" height="5" fill="none" stroke="#2ca02c" stroke-width="0.9" stroke-opacity="0.75"/>
<rect x="288.90" y="240.60" width="5" height="5" fill="none" stroke="#2ca02c" stroke-width="0.9" stroke-opacity="0.75"/>
<rect x="319.70" y="249.20" width="5" height="5" fill="none" stroke="#2ca02c" stroke-width="0.9" stroke-opacity="0.75"/>
<rect x="355.90" y="262.00" width="5" height="5" fill="none" stroke="#2ca02c" stroke-width="0.9" stroke-opacity="0.75"/>
<circle cx="247.50" cy="198.40" r="2.5" fill="#2ca02c" stroke="none" stroke-width="0" />
<circle cx="269.10" cy="224.10" r="2.5" fill="#2ca02c" stroke="none" stroke-width="0" />
<circle cx="293.40" cy="241.60" r="2.5" fill="#2ca02c" stroke="none" stroke-width="0" />
<circle cx="304.40" cy="248.20" r="2.5" fill="#2ca02c" stroke="none" stroke-width="0" />
<circle cx="331.50" cy="259.40" r="2.5" fill="#2ca02c" stroke="none" stroke-width="0" />
<circle cx="355.80" cy="261.50" r="2.5" fill="#2ca02c" stroke="none" stroke-width="0" />
<rect x="234.5" y="172.1" width="134.2" height="108.9" fill="none" stroke="#2e2e2e" stroke-width="1.05"/>
<line x1="247.90" y1="281.00" x2="247.90" y2="284.20" stroke="#2e2e2e" stroke-width="1.05" />
<text x="247.90" y="292.80" font-size="10.3" text-anchor="middle" fill="#111" font-weight="normal" >2</text>
<line x1="274.80" y1="281.00" x2="274.80" y2="284.20" stroke="#2e2e2e" stroke-width="1.05" />
<text x="274.80" y="292.80" font-size="10.3" text-anchor="middle" fill="#111" font-weight="normal" >3</text>
<line x1="301.70" y1="281.00" x2="301.70" y2="284.20" stroke="#2e2e2e" stroke-width="1.05" />
<text x="301.70" y="292.80" font-size="10.3" text-anchor="middle" fill="#111" font-weight="normal" >4</text>
<line x1="328.60" y1="281.00" x2="328.60" y2="284.20" stroke="#2e2e2e" stroke-width="1.05" />
<text x="328.60" y="292.80" font-size="10.3" text-anchor="middle" fill="#111" font-weight="normal" >5</text>
<line x1="355.50" y1="281.00" x2="355.50" y2="284.20" stroke="#2e2e2e" stroke-width="1.05" />
<text x="355.50" y="292.80" font-size="10.3" text-anchor="middle" fill="#111" font-weight="normal" >6</text>
<line x1="231.30" y1="281.10" x2="234.50" y2="281.10" stroke="#2e2e2e" stroke-width="1.05" />
<text x="229.00" y="284.80" font-size="10.3" text-anchor="end" fill="#111" font-weight="normal" >0</text>
<line x1="231.30" y1="259.32" x2="234.50" y2="259.32" stroke="#2e2e2e" stroke-width="1.05" />
<text x="229.00" y="263.02" font-size="10.3" text-anchor="end" fill="#111" font-weight="normal" >25</text>
<line x1="231.30" y1="237.54" x2="234.50" y2="237.54" stroke="#2e2e2e" stroke-width="1.05" />
<text x="229.00" y="241.24" font-size="10.3" text-anchor="end" fill="#111" font-weight="normal" >50</text>
<line x1="231.30" y1="215.76" x2="234.50" y2="215.76" stroke="#2e2e2e" stroke-width="1.05" />
<text x="229.00" y="219.46" font-size="10.3" text-anchor="end" fill="#111" font-weight="normal" >75</text>
<line x1="231.30" y1="193.98" x2="234.50" y2="193.98" stroke="#2e2e2e" stroke-width="1.05" />
<text x="229.00" y="197.68" font-size="10.3" text-anchor="end" fill="#111" font-weight="normal" >100</text>
<line x1="231.30" y1="172.20" x2="234.50" y2="172.20" stroke="#2e2e2e" stroke-width="1.05" />
<text x="229.00" y="175.90" font-size="10.3" text-anchor="end" fill="#111" font-weight="normal" >125</text>
<text x="301.60" y="303.60" font-size="11" text-anchor="middle" fill="#111" font-weight="normal" >Diameter (nm)</text>
<text transform="translate(207.70,226.70) rotate(-90)" font-size="11.05" text-anchor="middle" fill="#111">Stokes Shift (meV)</text>
<text x="237.20" y="183.50" font-size="10.3" text-anchor="start" fill="#111" font-weight="normal" >GaAs NCs</text>
<line x1="323.60" y1="226.40" x2="323.60" y2="178.50" stroke="#2b2b2b" stroke-width="1.0" />
<polygon points="321.5,179.8 323.6,174.3 325.7,179.8" fill="#2b2b2b"/>
<line x1="323.60" y1="226.40" x2="362.00" y2="226.40" stroke="#2b2b2b" stroke-width="1.0" />
<polygon points="361.2,224.3 366.6,226.4 361.2,228.5" fill="#2b2b2b"/>
<text transform="translate(317.60,199.00) rotate(-90)" font-size="8.7" text-anchor="middle" fill="#222">Energy</text>
<path d="M333.30,175.20 C333.57,176.70 334.20,181.43 334.90,184.20 C335.60,186.97 336.58,189.82 337.50,191.80 C338.42,193.78 339.32,195.98 340.40,196.10 C341.48,196.22 342.58,194.63 344.00,192.50 C345.42,190.37 347.28,185.55 348.90,183.30 C350.52,181.05 352.18,180.00 353.70,179.00 C355.22,178.00 356.42,177.70 358.00,177.30 C359.58,176.90 362.33,176.72 363.20,176.60" fill="none" stroke="#222" stroke-width="1.0" stroke-dasharray="1.2,1.1"/>
<path d="M328.00,206.90 C328.33,208.08 329.20,211.40 330.00,214.00 C330.80,216.60 331.97,220.47 332.80,222.50 C333.63,224.53 334.17,226.20 335.00,226.20 C335.83,226.20 336.90,223.90 337.80,222.50 C338.70,221.10 339.18,219.62 340.40,217.80 C341.62,215.98 343.52,213.27 345.10,211.60 C346.68,209.93 347.83,208.75 349.90,207.80 C351.97,206.85 356.23,206.22 357.50,205.90" fill="none" stroke="#222" stroke-width="1.0" stroke-dasharray="1.2,1.1"/>
<line x1="334.40" y1="226.20" x2="334.40" y2="188.00" stroke="#e8302a" stroke-width="1.1" />
<polygon points="332.2,188.8 334.4,183.3 336.6,188.8" fill="#e8302a"/>
<line x1="339.40" y1="196.00" x2="339.40" y2="215.50" stroke="#e8302a" stroke-width="1.1" />
<polygon points="337.3,215 339.4,220.3 341.5,215" fill="#e8302a"/>
<path d="M335.2,183.8 l2.2,0.6 l-1.6,2.2 l2.4,0.5 l-1.5,2.3 l2.4,0.6 l-1.4,2.3 l2.3,0.7 l-1.3,2.2 l2.2,1" fill="none" stroke="#f5a623" stroke-width="1.3" />
<path d="M335.5,226.2 l0.6,-2.2 l1.6,0.8 l0.4,-2.4 l1.7,0.7 l0.5,-2.4 l1.5,0.6" fill="none" stroke="#f5a623" stroke-width="1.3" />
<text x="324.60" y="203.10" font-size="8.2" text-anchor="start" fill="#222" font-weight="normal" >E</text>
<text x="329.20" y="205.60" font-size="6" text-anchor="start" fill="#333" font-weight="normal" >n</text>
<text x="343.60" y="203.10" font-size="8.2" text-anchor="start" fill="#222" font-weight="normal" >E</text>
<text x="348.00" y="205.60" font-size="6" text-anchor="start" fill="#333" font-weight="normal" >n</text>
<text x="351.60" y="203.10" font-size="8.2" text-anchor="start" fill="#222" font-weight="normal" >-2λ</text>
<text x="363.40" y="205.60" font-size="6" text-anchor="start" fill="#333" font-weight="normal" >n</text>
<text x="342.80" y="234.60" font-size="8.6" text-anchor="middle" fill="#222" font-weight="normal" >q</text>
<line x1="452.30" y1="10.60" x2="452.30" y2="268.00" stroke="#ebebeb" stroke-width="0.9" />
<line x1="483.60" y1="10.60" x2="483.60" y2="268.00" stroke="#ebebeb" stroke-width="0.9" />
<line x1="514.90" y1="10.60" x2="514.90" y2="268.00" stroke="#ebebeb" stroke-width="0.9" />
<line x1="546.20" y1="10.60" x2="546.20" y2="268.00" stroke="#ebebeb" stroke-width="0.9" />
<line x1="577.50" y1="10.60" x2="577.50" y2="268.00" stroke="#ebebeb" stroke-width="0.9" />
<line x1="608.80" y1="10.60" x2="608.80" y2="268.00" stroke="#ebebeb" stroke-width="0.9" />
<line x1="640.10" y1="10.60" x2="640.10" y2="268.00" stroke="#ebebeb" stroke-width="0.9" />
<line x1="421.00" y1="246.60" x2="671.40" y2="246.60" stroke="#ebebeb" stroke-width="0.9" />
<line x1="421.00" y1="193.00" x2="671.40" y2="193.00" stroke="#ebebeb" stroke-width="0.9" />
<line x1="421.00" y1="139.40" x2="671.40" y2="139.40" stroke="#ebebeb" stroke-width="0.9" />
<line x1="421.00" y1="85.80" x2="671.40" y2="85.80" stroke="#ebebeb" stroke-width="0.9" />
<line x1="421.00" y1="32.20" x2="671.40" y2="32.20" stroke="#ebebeb" stroke-width="0.9" />
<rect x="425.2" y="15.6" width="42.2" height="44.8" rx="2" fill="#fff" fill-opacity="0.92" stroke="#d9d9d9" stroke-width="0.9"/>
<line x1="429.00" y1="22.90" x2="449.60" y2="22.90" stroke="#0000ff" stroke-width="1.5" />
<line x1="429.00" y1="37.10" x2="449.60" y2="37.10" stroke="#ff0000" stroke-width="1.5" />
<line x1="429.00" y1="51.20" x2="449.60" y2="51.20" stroke="#008000" stroke-width="1.5" />
<text x="456.50" y="26.60" font-size="10.3" text-anchor="start" fill="#111" font-weight="normal" >Γ</text>
<text x="456.50" y="40.80" font-size="10.3" text-anchor="start" fill="#111" font-weight="normal" >X</text>
<text x="456.50" y="54.90" font-size="10.3" text-anchor="start" fill="#111" font-weight="normal" >L</text>
<polyline points="421.00,136.41 422.77,136.72 424.55,137.01 426.32,137.30 428.10,137.58 429.88,137.86 431.65,138.12 433.43,138.38 435.20,138.63 436.98,138.87 438.75,139.10 440.52,139.32 442.30,139.54 444.07,139.74 445.85,139.94 447.62,140.13 449.40,140.31 451.18,140.49 452.95,140.65 454.73,140.81 456.50,140.96 458.27,141.10 460.05,141.23 461.82,141.35 463.60,141.47 465.38,141.58 467.15,141.68 468.93,141.77 470.70,141.85 472.48,141.92 474.25,141.99 476.02,142.05 477.80,142.10 479.57,142.14 481.35,142.17 483.12,142.20 484.90,142.21 486.68,142.22 488.45,142.22 490.23,142.21 492.00,142.19 493.77,142.17 495.55,142.14 497.32,142.09 499.10,142.04 500.88,141.99 502.65,141.92 504.43,141.85 506.20,141.76 507.98,141.67 509.75,141.57 511.52,141.46 513.30,141.35 515.08,141.22 516.85,141.09 518.62,140.95 520.40,140.80 522.17,140.64 523.95,140.48 525.73,140.30 527.50,140.12" fill="none" stroke="#ff0000" stroke-width="1.4" stroke-linejoin="round"  stroke-dasharray="1.1,2.3" stroke-linecap="butt" stroke-opacity="0.5"/>
<polyline points="421.00,151.93 423.09,153.21 425.18,154.44 427.26,155.60 429.35,156.70 431.44,157.74 433.53,158.73 435.62,159.65 437.71,160.51 439.80,161.31 441.88,162.05 443.97,162.72 446.06,163.34 448.15,163.90 450.24,164.40 452.32,164.83 454.41,165.21 456.50,165.53 458.59,165.78 460.68,165.98 462.77,166.11 464.86,166.18 466.94,166.20 469.03,166.15 471.12,166.04 473.21,165.87 475.30,165.64 477.38,165.36 479.47,165.01 481.56,164.60 483.65,164.12 485.74,163.59 487.83,163.00 489.91,162.35 492.00,161.64 494.09,160.86 496.18,160.03 498.27,159.13 500.36,158.18 502.44,157.16 504.53,156.09 506.62,154.95 508.71,153.75 510.80,152.50 512.89,151.18 514.97,149.80 517.06,148.36 519.15,146.86 521.24,145.30 523.33,143.68 525.42,142.00 527.50,140.26 529.59,138.46 531.68,136.59 533.77,134.67 535.86,132.69 537.95,130.64 540.03,128.54 542.12,126.37 544.21,124.15 546.30,121.86" fill="none" stroke="#008000" stroke-width="1.4" stroke-linejoin="round"  stroke-dasharray="1.1,2.3" stroke-linecap="butt" stroke-opacity="0.5"/>
<polyline points="527.50,140.30 529.38,137.53 531.26,134.73 533.14,131.90 535.02,129.04 536.90,126.16 538.78,123.24 540.66,120.29 542.54,117.32 544.42,114.31 546.30,111.28" fill="none" stroke="#0000ff" stroke-width="1.4" stroke-linejoin="round"  stroke-dasharray="1.1,2.3" stroke-linecap="butt" stroke-opacity="0.5"/>
<polyline points="546.30,110.31 548.04,112.77 549.79,115.22 551.53,117.67 553.28,120.11 555.02,122.53 556.77,124.95 558.51,127.37 560.26,129.77 562.00,132.17 563.75,134.56 565.50,136.94 567.24,139.31 568.99,141.68 570.73,144.04 572.48,146.38 574.22,148.73 575.97,151.06 577.71,153.38 579.46,155.70 581.20,158.01" fill="none" stroke="#0000ff" stroke-width="1.4" stroke-linejoin="round"  stroke-dasharray="1.1,2.3" stroke-linecap="butt" stroke-opacity="0.5"/>
<polyline points="546.30,120.76 548.38,122.71 550.47,124.66 552.55,126.59 554.64,128.51 556.72,130.43 558.81,132.33 560.89,134.22 562.98,136.10 565.06,137.98 567.15,139.84 569.24,141.69 571.32,143.53 573.40,145.36 575.49,147.18 577.57,148.99 579.66,150.79 581.75,152.58 583.83,154.36 585.91,156.12 588.00,157.88 590.08,159.63 592.17,161.37 594.25,163.09 596.34,164.81 598.42,166.52 600.51,168.21 602.59,169.90 604.68,171.58 606.76,173.24 608.85,174.90 610.93,176.54 613.02,178.18 615.11,179.80 617.19,181.41 619.27,183.02 621.36,184.61 623.44,186.19 625.53,187.77 627.62,189.33 629.70,190.88 631.78,192.42 633.87,193.95 635.95,195.47 638.04,196.98 640.12,198.48 642.21,199.97 644.29,201.45 646.38,202.92 648.46,204.38 650.55,205.83 652.63,207.27 654.72,208.70 656.80,210.12 658.89,211.52 660.97,212.92 663.06,214.31 665.14,215.68 667.23,217.05 669.31,218.41 671.40,219.75" fill="none" stroke="#008000" stroke-width="1.4" stroke-linejoin="round"  stroke-dasharray="1.1,2.3" stroke-linecap="butt" stroke-opacity="0.5"/>
<polyline points="581.20,157.53 582.70,158.30 584.21,159.06 585.71,159.81 587.21,160.56 588.72,161.29 590.22,162.02 591.72,162.74 593.23,163.45 594.73,164.16 596.23,164.85 597.74,165.54 599.24,166.22 600.74,166.89 602.25,167.56 603.75,168.21 605.25,168.86 606.76,169.50 608.26,170.13 609.76,170.76 611.27,171.37 612.77,171.98 614.27,172.58 615.78,173.17 617.28,173.76 618.78,174.33 620.29,174.90 621.79,175.46 623.29,176.01 624.80,176.56 626.30,177.09 627.80,177.62 629.31,178.14 630.81,178.65 632.31,179.16 633.82,179.65 635.32,180.14 636.82,180.62 638.33,181.09 639.83,181.56 641.33,182.01 642.84,182.46 644.34,182.90 645.84,183.34 647.35,183.76 648.85,184.18 650.35,184.58 651.86,184.98 653.36,185.38 654.86,185.76 656.37,186.14 657.87,186.51 659.37,186.87 660.88,187.22 662.38,187.56 663.88,187.90 665.39,188.23 666.89,188.55 668.39,188.86 669.90,189.16 671.40,189.46" fill="none" stroke="#ff0000" stroke-width="1.4" stroke-linejoin="round"  stroke-dasharray="1.1,2.3" stroke-linecap="butt" stroke-opacity="0.5"/>
<polyline points="421.00,249.25 422.77,248.21 424.55,247.14 426.32,246.04 428.10,244.92 429.88,243.77 431.65,242.60 433.43,241.40 435.20,240.17 436.98,238.92 438.75,237.64 440.52,236.33 442.30,235.00 444.07,233.64 445.85,232.26 447.62,230.85 449.40,229.41 451.18,227.95 452.95,226.46 454.73,224.95 456.50,223.41 458.27,221.84 460.05,220.25 461.82,218.63 463.60,216.98 465.38,215.31 467.15,213.61 468.93,211.89 470.70,210.14 472.48,208.36 474.25,206.56 476.02,204.73 477.80,202.87 479.57,200.99 481.35,199.08 483.12,197.15 484.90,195.19 486.68,193.20 488.45,191.19 490.23,189.15 492.00,187.09 493.77,185.00 495.55,182.88 497.32,180.74 499.10,178.57 500.88,176.37 502.65,174.15 504.43,171.90 506.20,169.63 507.98,167.33 509.75,165.00 511.52,162.65 513.30,160.27 515.08,157.87 516.85,155.44 518.62,152.98 520.40,150.50 522.17,147.99 523.95,145.45 525.73,142.89 527.50,140.30" fill="none" stroke="#0000ff" stroke-width="1.7" stroke-linejoin="round" stroke-linecap="round" />
<polyline points="581.20,158.01 582.70,159.99 584.21,161.97 585.71,163.94 587.21,165.91 588.72,167.87 590.22,169.82 591.72,171.77 593.23,173.71 594.73,175.65 596.23,177.58 597.74,179.50 599.24,181.42 600.74,183.33 602.25,185.24 603.75,187.14 605.25,189.03 606.76,190.92 608.26,192.81 609.76,194.68 611.27,196.55 612.77,198.42 614.27,200.28 615.78,202.13 617.28,203.98 618.78,205.82 620.29,207.66 621.79,209.49 623.29,211.31 624.80,213.13 626.30,214.94 627.80,216.75 629.31,218.55 630.81,220.34 632.31,222.13 633.82,223.91 635.32,225.69 636.82,227.46 638.33,229.22 639.83,230.98 641.33,232.73 642.84,234.48 644.34,236.22 645.84,237.96 647.35,239.69 648.85,241.41 650.35,243.13 651.86,244.84 653.36,246.54 654.86,248.24 656.37,249.94 657.87,251.63 659.37,253.31 660.88,254.98 662.38,256.65 663.88,258.32 665.39,259.98 666.89,261.63 668.39,263.27 669.90,264.92 671.40,266.55" fill="none" stroke="#0000ff" stroke-width="1.7" stroke-linejoin="round" stroke-linecap="round" />
<polyline points="527.50,140.12 529.85,139.87 532.20,139.60 534.55,139.31 536.90,139.02 539.25,138.70 541.60,138.38 543.95,138.03 546.30,137.68 546.30,137.46 548.48,138.84 550.66,140.20 552.84,141.55 555.02,142.88 557.21,144.20 559.39,145.49 561.57,146.77 563.75,148.03 565.93,149.28 568.11,150.51 570.29,151.72 572.48,152.92 574.66,154.10 576.84,155.26 579.02,156.40 581.20,157.53" fill="none" stroke="#ff0000" stroke-width="1.7" stroke-linejoin="round" stroke-linecap="round" />
<line x1="546.30" y1="85.30" x2="546.30" y2="268.00" stroke="#1a1a1a" stroke-width="1.1" />
<polyline points="421.80,178.30 438.40,163.90 468.30,140.80 492.10,120.20 502.30,109.10 518.80,102.30 536.20,105.90 546.30,107.10 558.70,112.80 571.40,118.60 584.00,129.00 596.50,139.80 609.10,150.40 621.40,160.20 633.80,170.40 646.30,181.10 658.80,190.40 671.10,199.90" fill="none" stroke="#8c8c8c" stroke-width="1.6" stroke-linejoin="round" stroke-linecap="round" />
<circle cx="421.80" cy="178.30" r="2.5" fill="#2a5cff" stroke="#1838b0" stroke-width="0.7" />
<circle cx="438.40" cy="163.90" r="2.5" fill="#2a5cff" stroke="#1838b0" stroke-width="0.7" />
<circle cx="468.30" cy="140.80" r="2.5" fill="#2a5cff" stroke="#1838b0" stroke-width="0.7" />
<circle cx="492.10" cy="120.20" r="2.5" fill="#2a5cff" stroke="#1838b0" stroke-width="0.7" />
<circle cx="502.30" cy="109.10" r="2.5" fill="#2a5cff" stroke="#1838b0" stroke-width="0.7" />
<circle cx="584.00" cy="129.00" r="2.5" fill="#2a5cff" stroke="#1838b0" stroke-width="0.7" />
<circle cx="596.50" cy="139.80" r="2.5" fill="#2a5cff" stroke="#1838b0" stroke-width="0.7" />
<circle cx="609.10" cy="150.40" r="2.5" fill="#2a5cff" stroke="#1838b0" stroke-width="0.7" />
<circle cx="621.40" cy="160.20" r="2.5" fill="#2a5cff" stroke="#1838b0" stroke-width="0.7" />
<circle cx="633.80" cy="170.40" r="2.5" fill="#2a5cff" stroke="#1838b0" stroke-width="0.7" />
<circle cx="646.30" cy="181.10" r="2.5" fill="#2a5cff" stroke="#1838b0" stroke-width="0.7" />
<circle cx="658.80" cy="190.40" r="2.5" fill="#2a5cff" stroke="#1838b0" stroke-width="0.7" />
<circle cx="671.10" cy="199.90" r="2.5" fill="#2a5cff" stroke="#1838b0" stroke-width="0.7" />
<circle cx="518.80" cy="100.50" r="2.5" fill="#ff4a14" stroke="#d02a00" stroke-width="0.7" />
<circle cx="518.80" cy="104.20" r="2.5" fill="#ff4a14" stroke="#d02a00" stroke-width="0.7" />
<circle cx="536.20" cy="105.90" r="2.5" fill="#ff4a14" stroke="#d02a00" stroke-width="0.7" />
<circle cx="546.30" cy="107.10" r="2.5" fill="#ff4a14" stroke="#d02a00" stroke-width="0.7" />
<circle cx="558.70" cy="112.80" r="2.5" fill="#ff4a14" stroke="#d02a00" stroke-width="0.7" />
<circle cx="571.40" cy="118.60" r="2.5" fill="#ff4a14" stroke="#d02a00" stroke-width="0.7" />
<text x="490.00" y="135.60" font-size="9.9" text-anchor="start" fill="#7d1585" font-weight="normal" ><tspan font-style="italic">x</tspan> = 0.84</text>
<text x="548.90" y="170.70" font-size="9.9" text-anchor="start" fill="#7d1585" font-weight="normal" ><tspan font-style="italic">x</tspan> = 0.27</text>
<line x1="421.00" y1="10.60" x2="671.40" y2="10.60" stroke="#2e2e2e" stroke-width="1.05" />
<line x1="671.40" y1="10.60" x2="671.40" y2="268.00" stroke="#2e2e2e" stroke-width="1.05" />
<line x1="421.00" y1="268.00" x2="671.40" y2="268.00" stroke="#2e2e2e" stroke-width="1.05" />
<line x1="421.00" y1="10.60" x2="421.00" y2="268.00" stroke="#8c8c8c" stroke-width="1.5" />
<line x1="421.00" y1="268.00" x2="421.00" y2="271.00" stroke="#aaa" stroke-width="0.8" />
<line x1="452.30" y1="268.00" x2="452.30" y2="271.00" stroke="#aaa" stroke-width="0.8" />
<line x1="483.60" y1="268.00" x2="483.60" y2="271.00" stroke="#aaa" stroke-width="0.8" />
<line x1="514.90" y1="268.00" x2="514.90" y2="271.00" stroke="#aaa" stroke-width="0.8" />
<line x1="546.20" y1="268.00" x2="546.20" y2="271.00" stroke="#aaa" stroke-width="0.8" />
<line x1="577.50" y1="268.00" x2="577.50" y2="271.00" stroke="#aaa" stroke-width="0.8" />
<line x1="608.80" y1="268.00" x2="608.80" y2="271.00" stroke="#aaa" stroke-width="0.8" />
<line x1="640.10" y1="268.00" x2="640.10" y2="271.00" stroke="#aaa" stroke-width="0.8" />
<line x1="671.40" y1="268.00" x2="671.40" y2="271.00" stroke="#aaa" stroke-width="0.8" />
<text x="421.00" y="280.60" font-size="11.0" text-anchor="middle" fill="#111" font-weight="bold" >InP</text>
<text x="452.30" y="280.60" font-size="10.9" text-anchor="middle" fill="#111" font-weight="normal" >0.25</text>
<text x="483.60" y="280.60" font-size="10.9" text-anchor="middle" fill="#111" font-weight="normal" >0.50</text>
<text x="514.90" y="280.60" font-size="10.9" text-anchor="middle" fill="#111" font-weight="normal" >0.75</text>
<text x="546.20" y="280.60" font-size="11.0" text-anchor="middle" fill="#111" font-weight="bold" >GaP</text>
<text x="577.50" y="280.60" font-size="10.9" text-anchor="middle" fill="#111" font-weight="normal" >0.25</text>
<text x="608.80" y="280.60" font-size="10.9" text-anchor="middle" fill="#111" font-weight="normal" >0.50</text>
<text x="640.10" y="280.60" font-size="10.9" text-anchor="middle" fill="#111" font-weight="normal" >0.75</text>
<text x="671.40" y="280.60" font-size="11.0" text-anchor="middle" fill="#111" font-weight="bold" >GaAs</text>
<line x1="418.00" y1="246.60" x2="421.00" y2="246.60" stroke="#aaa" stroke-width="0.8" />
<text x="416.00" y="250.40" font-size="10.6" text-anchor="end" fill="#111" font-weight="normal" >1.5</text>
<line x1="418.00" y1="193.00" x2="421.00" y2="193.00" stroke="#aaa" stroke-width="0.8" />
<text x="416.00" y="196.80" font-size="10.6" text-anchor="end" fill="#111" font-weight="normal" >2.0</text>
<line x1="418.00" y1="139.40" x2="421.00" y2="139.40" stroke="#aaa" stroke-width="0.8" />
<text x="416.00" y="143.20" font-size="10.6" text-anchor="end" fill="#111" font-weight="normal" >2.5</text>
<line x1="418.00" y1="85.80" x2="421.00" y2="85.80" stroke="#aaa" stroke-width="0.8" />
<text x="416.00" y="89.60" font-size="10.6" text-anchor="end" fill="#111" font-weight="normal" >3.0</text>
<line x1="418.00" y1="32.20" x2="421.00" y2="32.20" stroke="#aaa" stroke-width="0.8" />
<text x="416.00" y="36.00" font-size="10.6" text-anchor="end" fill="#111" font-weight="normal" >3.5</text>
<text x="483.20" y="291.80" font-size="10.8" text-anchor="middle" fill="#111" font-weight="normal" >Ga composition <tspan font-style="italic">x</tspan></text>
<text x="483.20" y="302.20" font-size="10.8" text-anchor="middle" fill="#111" font-weight="normal" >In<tspan font-size="7.5" dy="2.5">1 − <tspan font-style="italic">x</tspan></tspan><tspan dy="-2.5">Ga</tspan><tspan font-size="7.5" dy="2.5" font-style="italic">x</tspan><tspan dy="-2.5">P</tspan></text>
<text x="609.50" y="291.80" font-size="10.8" text-anchor="middle" fill="#111" font-weight="normal" >As composition <tspan font-style="italic">x</tspan></text>
<text x="609.50" y="302.20" font-size="10.8" text-anchor="middle" fill="#111" font-weight="normal" >GaP<tspan font-size="7.5" dy="2.5">1 − <tspan font-style="italic">x</tspan></tspan><tspan dy="-2.5">As</tspan><tspan font-size="7.5" dy="2.5" font-style="italic">x</tspan></text>
<text transform="translate(397.20,137.20) rotate(-90)" font-size="11.1" text-anchor="middle" fill="#111">Fundamental gap (eV)</text>
<rect x="487" y="11.2" width="183.9" height="73.6" fill="#fff"/>
<rect x="494.8" y="21.499999999999996" width="41.6" height="41.6" rx="2.5" fill="#e4ef1c"/><rect x="493.4" y="20.099999999999994" width="9.2" height="9.2" rx="1.5" fill="#f2f56a"/><rect x="493.4" y="37.699999999999996" width="9.2" height="9.2" rx="1.5" fill="#f2f56a"/><rect x="493.4" y="55.3" width="9.2" height="9.2" rx="1.5" fill="#f2f56a"/><rect x="511.0" y="20.099999999999994" width="9.2" height="9.2" rx="1.5" fill="#f2f56a"/><rect x="511.0" y="37.699999999999996" width="9.2" height="9.2" rx="1.5" fill="#f2f56a"/><rect x="511.0" y="55.3" width="9.2" height="9.2" rx="1.5" fill="#f2f56a"/><rect x="528.6" y="20.099999999999994" width="9.2" height="9.2" rx="1.5" fill="#f2f56a"/><rect x="528.6" y="37.699999999999996" width="9.2" height="9.2" rx="1.5" fill="#f2f56a"/><rect x="528.6" y="55.3" width="9.2" height="9.2" rx="1.5" fill="#f2f56a"/><rect x="502.6" y="29.3" width="8.4" height="8.4" rx="1" fill="#f2f56a"/><rect x="520.1999999999999" y="29.3" width="8.4" height="8.4" rx="1" fill="#f2f56a"/><rect x="502.6" y="46.89999999999999" width="8.4" height="8.4" rx="1" fill="#f2f56a"/><rect x="520.1999999999999" y="46.89999999999999" width="8.4" height="8.4" rx="1" fill="#f2f56a"/><rect x="505.2" y="19.699999999999996" width="3.2" height="6" fill="#fff"/><rect x="505.2" y="39.599999999999994" width="3.2" height="5.4" fill="#fff"/><rect x="505.2" y="58.9" width="3.2" height="6" fill="#fff"/><rect x="522.8" y="19.699999999999996" width="3.2" height="6" fill="#fff"/><rect x="522.8" y="39.599999999999994" width="3.2" height="5.4" fill="#fff"/><rect x="522.8" y="58.9" width="3.2" height="6" fill="#fff"/><rect x="493.0" y="31.9" width="6" height="3.2" fill="#fff"/><rect x="493.0" y="49.49999999999999" width="6" height="3.2" fill="#fff"/><rect x="512.9" y="31.9" width="5.4" height="3.2" fill="#fff"/><rect x="512.9" y="49.49999999999999" width="5.4" height="3.2" fill="#fff"/><rect x="532.2" y="31.9" width="6" height="3.2" fill="#fff"/><rect x="532.2" y="49.49999999999999" width="6" height="3.2" fill="#fff"/><line x1="498.0" y1="24.7" x2="515.6" y2="42.3" stroke="#3a4a9a" stroke-width="0.7" stroke-opacity="0.6"/><line x1="515.6" y1="24.7" x2="498.0" y2="42.3" stroke="#3a4a9a" stroke-width="0.7" stroke-opacity="0.6"/><line x1="515.6" y1="24.7" x2="533.1999999999999" y2="42.3" stroke="#3a4a9a" stroke-width="0.7" stroke-opacity="0.6"/><line x1="533.1999999999999" y1="24.7" x2="515.6" y2="42.3" stroke="#3a4a9a" stroke-width="0.7" stroke-opacity="0.6"/><line x1="498.0" y1="42.3" x2="515.6" y2="59.89999999999999" stroke="#3a4a9a" stroke-width="0.7" stroke-opacity="0.6"/><line x1="515.6" y1="42.3" x2="498.0" y2="59.89999999999999" stroke="#3a4a9a" stroke-width="0.7" stroke-opacity="0.6"/><line x1="515.6" y1="42.3" x2="533.1999999999999" y2="59.89999999999999" stroke="#3a4a9a" stroke-width="0.7" stroke-opacity="0.6"/><line x1="533.1999999999999" y1="42.3" x2="515.6" y2="59.89999999999999" stroke="#3a4a9a" stroke-width="0.7" stroke-opacity="0.6"/><circle cx="498.00" cy="24.70" r="3.7" fill="#1a6e68"/><circle cx="497.60" cy="24.30" r="2.29" fill="#5cc2b2" fill-opacity="0.85"/><circle cx="497.50" cy="24.20" r="1.11" fill="#e8fbf6" fill-opacity="0.9"/><circle cx="498.00" cy="42.30" r="3.7" fill="#1a6e68"/><circle cx="497.60" cy="41.90" r="2.29" fill="#5cc2b2" fill-opacity="0.85"/><circle cx="497.50" cy="41.80" r="1.11" fill="#e8fbf6" fill-opacity="0.9"/><circle cx="498.00" cy="59.90" r="3.7" fill="#1a6e68"/><circle cx="497.60" cy="59.50" r="2.29" fill="#5cc2b2" fill-opacity="0.85"/><circle cx="497.50" cy="59.40" r="1.11" fill="#e8fbf6" fill-opacity="0.9"/><circle cx="515.60" cy="24.70" r="3.7" fill="#1a6e68"/><circle cx="515.20" cy="24.30" r="2.29" fill="#5cc2b2" fill-opacity="0.85"/><circle cx="515.10" cy="24.20" r="1.11" fill="#e8fbf6" fill-opacity="0.9"/><circle cx="515.60" cy="42.30" r="3.6" fill="#4f9a3a"/><circle cx="515.20" cy="41.90" r="2.23" fill="#8cc860" fill-opacity="0.85"/><circle cx="515.10" cy="41.80" r="1.08" fill="#e8fbf6" fill-opacity="0.9"/><circle cx="515.60" cy="59.90" r="3.7" fill="#1a6e68"/><circle cx="515.20" cy="59.50" r="2.29" fill="#5cc2b2" fill-opacity="0.85"/><circle cx="515.10" cy="59.40" r="1.11" fill="#e8fbf6" fill-opacity="0.9"/><circle cx="533.20" cy="24.70" r="3.7" fill="#1a6e68"/><circle cx="532.80" cy="24.30" r="2.29" fill="#5cc2b2" fill-opacity="0.85"/><circle cx="532.70" cy="24.20" r="1.11" fill="#e8fbf6" fill-opacity="0.9"/><circle cx="533.20" cy="42.30" r="3.7" fill="#1a6e68"/><circle cx="532.80" cy="41.90" r="2.29" fill="#5cc2b2" fill-opacity="0.85"/><circle cx="532.70" cy="41.80" r="1.11" fill="#e8fbf6" fill-opacity="0.9"/><circle cx="533.20" cy="59.90" r="3.7" fill="#1a6e68"/><circle cx="532.80" cy="59.50" r="2.29" fill="#5cc2b2" fill-opacity="0.85"/><circle cx="532.70" cy="59.40" r="1.11" fill="#e8fbf6" fill-opacity="0.9"/><rect x="504.6" y="31.3" width="4.4" height="4.4" rx="0.8" fill="#d24a92"/><circle cx="506.6" cy="33.3" r="1.0" fill="#f0a0c8"/><rect x="522.1999999999999" y="31.3" width="4.4" height="4.4" rx="0.8" fill="#d24a92"/><circle cx="524.1999999999999" cy="33.3" r="1.0" fill="#f0a0c8"/><rect x="504.6" y="48.89999999999999" width="4.4" height="4.4" rx="0.8" fill="#d24a92"/><circle cx="506.6" cy="50.89999999999999" r="1.0" fill="#f0a0c8"/><rect x="522.1999999999999" y="48.89999999999999" width="4.4" height="4.4" rx="0.8" fill="#d24a92"/><circle cx="524.1999999999999" cy="50.89999999999999" r="1.0" fill="#f0a0c8"/>
<rect x="558.5" y="23.4" width="38.2" height="37.7" rx="5" fill="#e4ef1c"/><ellipse cx="565.3000000000001" cy="36.2" rx="6" ry="4.2" transform="rotate(45 565.3000000000001 36.2)" fill="#f2f56a" fill-opacity="0.7"/><ellipse cx="572.3000000000001" cy="30.200000000000003" rx="5" ry="3.6" transform="rotate(45 572.3000000000001 30.200000000000003)" fill="#f2f56a" fill-opacity="0.6"/><path d="M560.3000000000001,30.700000000000003 Q565.8000000000001,26.700000000000003 568.3000000000001,24.700000000000003" stroke="#fff" stroke-width="1.6" fill="none"/><path d="M570.3000000000001,42.0 Q572.8000000000001,36.2 577.6,34.2" stroke="#fff" stroke-width="1.6" fill="none"/><path d="M571.3000000000001,32.2 Q572.8000000000001,28.200000000000003 573.3000000000001,24.700000000000003" stroke="#fff" stroke-width="0.9" fill="none" stroke-opacity="0.8"/><ellipse cx="582.9" cy="36.2" rx="6" ry="4.2" transform="rotate(45 582.9 36.2)" fill="#f2f56a" fill-opacity="0.7"/><ellipse cx="589.9" cy="30.200000000000003" rx="5" ry="3.6" transform="rotate(45 589.9 30.200000000000003)" fill="#f2f56a" fill-opacity="0.6"/><path d="M577.9,30.700000000000003 Q583.4,26.700000000000003 585.9,24.700000000000003" stroke="#fff" stroke-width="1.6" fill="none"/><path d="M587.9,42.0 Q590.4,36.2 595.1999999999999,34.2" stroke="#fff" stroke-width="1.6" fill="none"/><path d="M588.9,32.2 Q590.4,28.200000000000003 590.9,24.700000000000003" stroke="#fff" stroke-width="0.9" fill="none" stroke-opacity="0.8"/><ellipse cx="565.3000000000001" cy="53.8" rx="6" ry="4.2" transform="rotate(45 565.3000000000001 53.8)" fill="#f2f56a" fill-opacity="0.7"/><ellipse cx="572.3000000000001" cy="47.8" rx="5" ry="3.6" transform="rotate(45 572.3000000000001 47.8)" fill="#f2f56a" fill-opacity="0.6"/><path d="M560.3000000000001,48.3 Q565.8000000000001,44.3 568.3000000000001,42.3" stroke="#fff" stroke-width="1.6" fill="none"/><path d="M570.3000000000001,59.599999999999994 Q572.8000000000001,53.8 577.6,51.8" stroke="#fff" stroke-width="1.6" fill="none"/><path d="M571.3000000000001,49.8 Q572.8000000000001,45.8 573.3000000000001,42.3" stroke="#fff" stroke-width="0.9" fill="none" stroke-opacity="0.8"/><ellipse cx="582.9" cy="53.8" rx="6" ry="4.2" transform="rotate(45 582.9 53.8)" fill="#f2f56a" fill-opacity="0.7"/><ellipse cx="589.9" cy="47.8" rx="5" ry="3.6" transform="rotate(45 589.9 47.8)" fill="#f2f56a" fill-opacity="0.6"/><path d="M577.9,48.3 Q583.4,44.3 585.9,42.3" stroke="#fff" stroke-width="1.6" fill="none"/><path d="M587.9,59.599999999999994 Q590.4,53.8 595.1999999999999,51.8" stroke="#fff" stroke-width="1.6" fill="none"/><path d="M588.9,49.8 Q590.4,45.8 590.9,42.3" stroke="#fff" stroke-width="0.9" fill="none" stroke-opacity="0.8"/><ellipse cx="558.5" cy="33.2" rx="1.6" ry="4.5" fill="#fff"/><ellipse cx="596.7" cy="50.8" rx="1.6" ry="4.5" fill="#fff"/><ellipse cx="596.7" cy="33.2" rx="1.6" ry="4.5" fill="#fff"/><ellipse cx="558.5" cy="50.8" rx="1.6" ry="4.5" fill="#fff"/><ellipse cx="568.8000000000001" cy="23.099999999999998" rx="4.5" ry="1.4" fill="#fff"/><ellipse cx="586.4" cy="60.9" rx="4.5" ry="1.4" fill="#fff"/><ellipse cx="586.4" cy="23.099999999999998" rx="4.5" ry="1.4" fill="#fff"/><ellipse cx="568.8000000000001" cy="60.9" rx="4.5" ry="1.4" fill="#fff"/><line x1="560.0000000000001" y1="24.400000000000002" x2="577.6" y2="42.0" stroke="#5a2fa0" stroke-width="0.8" stroke-opacity="0.7"/><line x1="577.6" y1="24.400000000000002" x2="595.1999999999999" y2="42.0" stroke="#5a2fa0" stroke-width="0.8" stroke-opacity="0.7"/><line x1="560.0000000000001" y1="42.0" x2="577.6" y2="59.599999999999994" stroke="#5a2fa0" stroke-width="0.8" stroke-opacity="0.7"/><line x1="577.6" y1="42.0" x2="595.1999999999999" y2="59.599999999999994" stroke="#5a2fa0" stroke-width="0.8" stroke-opacity="0.7"/><circle cx="560.00" cy="24.40" r="3.7" fill="#1a6e68"/><circle cx="559.60" cy="24.00" r="2.29" fill="#5cc2b2" fill-opacity="0.85"/><circle cx="559.50" cy="23.90" r="1.11" fill="#e8fbf6" fill-opacity="0.9"/><circle cx="560.00" cy="42.00" r="3.7" fill="#1a6e68"/><circle cx="559.60" cy="41.60" r="2.29" fill="#5cc2b2" fill-opacity="0.85"/><circle cx="559.50" cy="41.50" r="1.11" fill="#e8fbf6" fill-opacity="0.9"/><circle cx="560.00" cy="59.60" r="3.7" fill="#1a6e68"/><circle cx="559.60" cy="59.20" r="2.29" fill="#5cc2b2" fill-opacity="0.85"/><circle cx="559.50" cy="59.10" r="1.11" fill="#e8fbf6" fill-opacity="0.9"/><circle cx="577.60" cy="24.40" r="3.7" fill="#1a6e68"/><circle cx="577.20" cy="24.00" r="2.29" fill="#5cc2b2" fill-opacity="0.85"/><circle cx="577.10" cy="23.90" r="1.11" fill="#e8fbf6" fill-opacity="0.9"/><circle cx="577.60" cy="42.00" r="3.6" fill="#4f9a3a"/><circle cx="577.20" cy="41.60" r="2.23" fill="#8cc860" fill-opacity="0.85"/><circle cx="577.10" cy="41.50" r="1.08" fill="#e8fbf6" fill-opacity="0.9"/><circle cx="577.60" cy="59.60" r="3.7" fill="#1a6e68"/><circle cx="577.20" cy="59.20" r="2.29" fill="#5cc2b2" fill-opacity="0.85"/><circle cx="577.10" cy="59.10" r="1.11" fill="#e8fbf6" fill-opacity="0.9"/><circle cx="595.20" cy="24.40" r="3.7" fill="#1a6e68"/><circle cx="594.80" cy="24.00" r="2.29" fill="#5cc2b2" fill-opacity="0.85"/><circle cx="594.70" cy="23.90" r="1.11" fill="#e8fbf6" fill-opacity="0.9"/><circle cx="595.20" cy="42.00" r="3.7" fill="#1a6e68"/><circle cx="594.80" cy="41.60" r="2.29" fill="#5cc2b2" fill-opacity="0.85"/><circle cx="594.70" cy="41.50" r="1.11" fill="#e8fbf6" fill-opacity="0.9"/><circle cx="595.20" cy="59.60" r="3.7" fill="#1a6e68"/><circle cx="594.80" cy="59.20" r="2.29" fill="#5cc2b2" fill-opacity="0.85"/><circle cx="594.70" cy="59.10" r="1.11" fill="#e8fbf6" fill-opacity="0.9"/><rect x="566.6" y="31.000000000000004" width="4.4" height="4.4" rx="0.8" fill="#d24a92"/><circle cx="568.6" cy="33.0" r="1.0" fill="#f0a0c8"/><rect x="584.1999999999999" y="31.000000000000004" width="4.4" height="4.4" rx="0.8" fill="#d24a92"/><circle cx="586.1999999999999" cy="33.0" r="1.0" fill="#f0a0c8"/><rect x="566.6" y="48.599999999999994" width="4.4" height="4.4" rx="0.8" fill="#d24a92"/><circle cx="568.6" cy="50.599999999999994" r="1.0" fill="#f0a0c8"/><rect x="584.1999999999999" y="48.599999999999994" width="4.4" height="4.4" rx="0.8" fill="#d24a92"/><circle cx="586.1999999999999" cy="50.599999999999994" r="1.0" fill="#f0a0c8"/>
<rect x="625.1999999999999" y="21.4" width="30.200000000000003" height="41.2" rx="4" fill="#e4ef1c"/><ellipse cx="631.5" cy="42.0" rx="9.4" ry="8.6" fill="#e4ef1c"/><ellipse cx="649.0999999999999" cy="42.0" rx="9.4" ry="8.6" fill="#e4ef1c"/><ellipse cx="623.9" cy="33.2" rx="4.2" ry="5.2" fill="#fff"/><ellipse cx="623.9" cy="50.8" rx="4.2" ry="5.2" fill="#fff"/><ellipse cx="656.6999999999999" cy="33.2" rx="4.2" ry="5.2" fill="#fff"/><ellipse cx="656.6999999999999" cy="50.8" rx="4.2" ry="5.2" fill="#fff"/><ellipse cx="640.3" cy="33.2" rx="1.6" ry="4.8" fill="#fff"/><ellipse cx="640.3" cy="50.8" rx="1.6" ry="4.8" fill="#fff"/><circle cx="631.5" cy="33.2" r="3.4" fill="#fff" fill-opacity="0.85"/><circle cx="649.0999999999999" cy="33.2" r="3.4" fill="#fff" fill-opacity="0.85"/><circle cx="631.5" cy="50.8" r="3.4" fill="#fff" fill-opacity="0.85"/><circle cx="649.0999999999999" cy="50.8" r="3.4" fill="#fff" fill-opacity="0.85"/><line x1="624.7" y1="26.400000000000002" x2="638.3" y2="40.0" stroke="#e08a30" stroke-width="0.7" stroke-opacity="0.7"/><line x1="638.3" y1="26.400000000000002" x2="624.7" y2="40.0" stroke="#e08a30" stroke-width="0.7" stroke-opacity="0.7"/><line x1="642.3" y1="26.400000000000002" x2="655.8999999999999" y2="40.0" stroke="#e08a30" stroke-width="0.7" stroke-opacity="0.7"/><line x1="655.8999999999999" y1="26.400000000000002" x2="642.3" y2="40.0" stroke="#e08a30" stroke-width="0.7" stroke-opacity="0.7"/><line x1="624.7" y1="44.0" x2="638.3" y2="57.599999999999994" stroke="#e08a30" stroke-width="0.7" stroke-opacity="0.7"/><line x1="638.3" y1="44.0" x2="624.7" y2="57.599999999999994" stroke="#e08a30" stroke-width="0.7" stroke-opacity="0.7"/><line x1="642.3" y1="44.0" x2="655.8999999999999" y2="57.599999999999994" stroke="#e08a30" stroke-width="0.7" stroke-opacity="0.7"/><line x1="655.8999999999999" y1="44.0" x2="642.3" y2="57.599999999999994" stroke="#e08a30" stroke-width="0.7" stroke-opacity="0.7"/><circle cx="622.70" cy="24.40" r="3.7" fill="#1a6e68"/><circle cx="622.30" cy="24.00" r="2.29" fill="#5cc2b2" fill-opacity="0.85"/><circle cx="622.20" cy="23.90" r="1.11" fill="#e8fbf6" fill-opacity="0.9"/><circle cx="622.70" cy="42.00" r="3.7" fill="#1a6e68"/><circle cx="622.30" cy="41.60" r="2.29" fill="#5cc2b2" fill-opacity="0.85"/><circle cx="622.20" cy="41.50" r="1.11" fill="#e8fbf6" fill-opacity="0.9"/><circle cx="622.70" cy="59.60" r="3.7" fill="#1a6e68"/><circle cx="622.30" cy="59.20" r="2.29" fill="#5cc2b2" fill-opacity="0.85"/><circle cx="622.20" cy="59.10" r="1.11" fill="#e8fbf6" fill-opacity="0.9"/><circle cx="640.30" cy="24.40" r="3.7" fill="#1a6e68"/><circle cx="639.90" cy="24.00" r="2.29" fill="#5cc2b2" fill-opacity="0.85"/><circle cx="639.80" cy="23.90" r="1.11" fill="#e8fbf6" fill-opacity="0.9"/><circle cx="640.30" cy="42.00" r="2.6" fill="#8fc040"/><circle cx="639.90" cy="41.60" r="1.61" fill="#b8e070" fill-opacity="0.85"/><circle cx="639.80" cy="41.50" r="0.78" fill="#e8fbf6" fill-opacity="0.9"/><circle cx="640.30" cy="59.60" r="3.7" fill="#1a6e68"/><circle cx="639.90" cy="59.20" r="2.29" fill="#5cc2b2" fill-opacity="0.85"/><circle cx="639.80" cy="59.10" r="1.11" fill="#e8fbf6" fill-opacity="0.9"/><circle cx="657.90" cy="24.40" r="3.7" fill="#1a6e68"/><circle cx="657.50" cy="24.00" r="2.29" fill="#5cc2b2" fill-opacity="0.85"/><circle cx="657.40" cy="23.90" r="1.11" fill="#e8fbf6" fill-opacity="0.9"/><circle cx="657.90" cy="42.00" r="3.7" fill="#1a6e68"/><circle cx="657.50" cy="41.60" r="2.29" fill="#5cc2b2" fill-opacity="0.85"/><circle cx="657.40" cy="41.50" r="1.11" fill="#e8fbf6" fill-opacity="0.9"/><circle cx="657.90" cy="59.60" r="3.7" fill="#1a6e68"/><circle cx="657.50" cy="59.20" r="2.29" fill="#5cc2b2" fill-opacity="0.85"/><circle cx="657.40" cy="59.10" r="1.11" fill="#e8fbf6" fill-opacity="0.9"/><rect x="629.4" y="31.1" width="4.2" height="4.2" rx="0.6" fill="#7a2a9e"/><circle cx="631.5" cy="33.2" r="0.9" fill="#c080d0"/><rect x="646.9999999999999" y="31.1" width="4.2" height="4.2" rx="0.6" fill="#7a2a9e"/><circle cx="649.0999999999999" cy="33.2" r="0.9" fill="#c080d0"/><rect x="629.4" y="48.699999999999996" width="4.2" height="4.2" rx="0.6" fill="#7a2a9e"/><circle cx="631.5" cy="50.8" r="0.9" fill="#c080d0"/><rect x="646.9999999999999" y="48.699999999999996" width="4.2" height="4.2" rx="0.6" fill="#7a2a9e"/><circle cx="649.0999999999999" cy="50.8" r="0.9" fill="#c080d0"/>
<text x="515.40" y="76.80" font-size="9.4" text-anchor="middle" fill="#111" font-weight="normal" >GaP at Γ</text>
<text x="577.80" y="76.80" font-size="9.4" text-anchor="middle" fill="#111" font-weight="normal" >GaP at L</text>
<text x="640.30" y="76.80" font-size="9.4" text-anchor="middle" fill="#111" font-weight="normal" >GaP at X</text>
</svg></body></html>
